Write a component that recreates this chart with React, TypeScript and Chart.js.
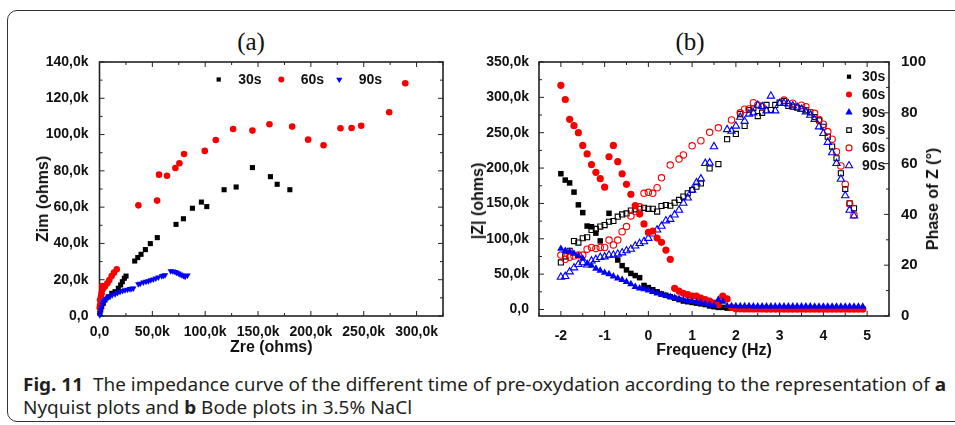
import React, { useEffect, useLayoutEffect, useRef } from 'react';
import { Chart, registerables } from 'chart.js';

Chart.register(...registerables);

// ---------------- (a) Nyquist data, kOhm ----------------
const NYQ_30_ZRE = [0.3, 1.1, 2.1, 3.6, 5.2, 8.3, 11.6, 14.7, 17.8, 20.0, 21.6, 23.5, 25.1, 33.3, 36.2, 39.3, 43.4, 48.1, 54.7, 72.4, 79.4, 87.9, 96.4, 101.5, 117.9, 129.3, 144.7, 161.7, 168.1, 180.1];
const NYQ_30_ZIM = [1.5, 3.3, 5.1, 7.0, 8.8, 10.6, 12.5, 13.4, 15.3, 17.1, 18.9, 20.8, 22.0, 30.3, 32.2, 34.0, 36.6, 39.9, 43.2, 50.5, 53.6, 59.4, 62.8, 60.3, 69.6, 71.1, 81.8, 76.8, 72.6, 69.6];

const NYQ_60_ZRE = [0.2, 0.5, 0.5, 1.4, 2.0, 3.0, 2.7, 5.2, 7.4, 9.3, 11.5, 13.7, 16.3, 36.8, 54.5, 56.3, 63.9, 71.8, 75.6, 80.0, 99.6, 110.0, 126.4, 144.7, 160.8, 182.3, 197.4, 212.0, 228.0, 238.5, 247.6, 274.1, 289.3];
const NYQ_60_ZIM = [4.5, 6.0, 8.8, 10.6, 12.5, 14.7, 16.5, 16.2, 18.0, 19.8, 22.0, 23.9, 25.7, 61.0, 63.6, 77.9, 77.3, 81.6, 84.2, 89.3, 91.0, 97.0, 103.1, 102.2, 105.7, 104.4, 97.2, 94.1, 103.5, 103.6, 104.9, 112.3, 128.3];

const NYQ_90_ZRE = [0.3, 0.8, 1.3, 2.0, 2.8, 3.8, 5.0, 6.5, 8.0, 9.9, 12.0, 14.7, 17.0, 19.4, 21.8, 24.1, 26.5, 28.9, 30.5, 32.0, 36.7, 38.5, 41.5, 44.0, 46.2, 48.5, 50.9, 53.3, 55.7, 58.9, 60.5, 62.0, 67.4, 69.5, 71.5, 73.0, 74.6, 76.2, 77.8, 79.4, 81.0, 83.2];
const NYQ_90_ZIM = [0.5, 2.0, 3.5, 5.0, 6.5, 7.8, 8.8, 9.6, 10.2, 10.8, 11.5, 12.1, 12.8, 13.4, 13.9, 14.3, 14.6, 14.9, 15.1, 15.3, 17.6, 17.9, 18.6, 19.0, 19.3, 19.8, 20.2, 20.8, 21.3, 22.0, 22.3, 22.6, 24.8, 24.6, 24.3, 23.9, 23.5, 23.0, 22.6, 22.1, 21.7, 22.4];

const NYQ_X_TICKS = [0, 50, 100, 150, 200, 250, 300];
const NYQ_X_LABELS = ['0,0', '50,0k', '100,0k', '150,0k', '200,0k', '250,0k', '300,0k'];
const NYQ_Y_TICKS = [0, 20, 40, 60, 80, 100, 120, 140];
const NYQ_Y_LABELS = ['0,0', '20,0k', '40,0k', '60,0k', '80,0k', '100,0k', '120,0k', '140,0k'];

// ---------------- (b) Bode data ----------------
const FREQ_MOD = [-2.0, -1.9, -1.8, -1.7, -1.6, -1.5, -1.4, -1.3, -1.2, -1.1, -1.0, -0.9, -0.8, -0.7, -0.6, -0.5, -0.4, -0.3, -0.2, -0.1, 0.0, 0.1, 0.2, 0.3, 0.4, 0.5, 0.6, 0.7, 0.8, 0.9, 1.0, 1.1, 1.2, 1.3, 1.4, 1.5, 1.6, 1.7, 1.8, 1.9, 2.0, 2.1, 2.2, 2.3, 2.4, 2.5, 2.6, 2.7, 2.8, 2.9, 3.0, 3.1, 3.2, 3.3, 3.4, 3.5, 3.6, 3.7, 3.8, 3.9, 4.0, 4.1, 4.2, 4.3, 4.4, 4.5, 4.6, 4.7, 4.8, 4.9];
// |Z| in kOhm
const MOD_30 = [192, 183, 179, 166, 148, 137, 118, 117, 108, 97, null, 136, null, 70, 62, 56, 51, 48, 45, 34, 31, 28, 25, 22, 20, 18, 16, 14, 12, 11, 10, 9, 8, 7, 5, 4, 3, 3, 2, 2, 1.8, 1.8, 1.6, 1.6, 1.5, 1.5, 1.5, 1.4, 1.4, 1.4, 1.3, 1.3, 1.3, 1.3, 1.2, 1.2, 1.2, 1.2, 1.2, 1.1, 1.1, 1.1, 1.1, 1.1, 1.0, 1.0, 1.0, 1.0, 1.0, 1.0];
const MOD_60 = [317, 297, 269, 260, 250, 232, 220, 205, 194, 185, 173, 216, 232, 209, 192, 177, 163, 147, 135, 121, 109, 111, 101, 95, 84, 71, 30, 26, 23, 21, 19, 19, 16, 14, 12, 9, 7, 19, 15, 3, 1.0, 0.9, 0.8, 0.8, 0.7, 0.7, 0.7, 0.6, 0.6, 0.6, 0.6, 0.5, 0.5, 0.5, 0.5, 0.5, 0.5, 0.5, 0.4, 0.4, 0.4, 0.4, 0.4, 0.4, 0.4, 0.4, 0.4, 0.4, 0.4, 0.4];
const MOD_90 = [86, 83, 82, 79, 76, 72, 65, 62, 58, 55, 52, 50, 47, 44, 42, 39, 36, 32, 30, 29, 27, 25, 23, 21, 19.5, 18, 16.5, 15, 13.5, 12, 11, 10.5, 9.5, 8, 7, 5.5, 14, 11, 5, 5, 4.8, 4.8, 4.7, 4.7, 4.6, 4.6, 4.6, 4.5, 4.5, 4.5, 4.5, 4.5, 4.4, 4.4, 4.4, 4.4, 4.4, 4.4, 4.3, 4.3, 4.3, 4.3, 4.3, 4.3, 4.3, 4.3, 4.3, 4.3, 4.3, 4.2];

const FREQ_PH = [-2.0, -1.9, -1.8, -1.7, -1.6, -1.5, -1.4, -1.3, -1.2, -1.1, -1.0, -0.9, -0.8, -0.7, -0.6, -0.5, -0.4, -0.3, -0.2, -0.1, 0.0, 0.1, 0.2, 0.3, 0.4, 0.5, 0.6, 0.7, 0.8, 0.9, 1.0, 1.1, 1.2, 1.3, 1.4, 1.5, 1.6, 1.7, 1.8, 1.9, 2.0, 2.1, 2.2, 2.3, 2.4, 2.5, 2.6, 2.7, 2.8, 2.9, 3.0, 3.1, 3.2, 3.3, 3.4, 3.5, 3.6, 3.7, 3.8, 3.9, 4.0, 4.1, 4.2, 4.3, 4.4, 4.5, 4.6, 4.7];
// phase in degrees
const PH_30 = [21.1, 23.5, 25.7, 29.5, 28.9, 30.6, 31.0, 33.9, 34.3, 35.2, 35.8, 37.1, 37.4, 39.1, 40.0, 40.4, 41.5, 42.0, 42.2, 42.6, 42.2, 42.2, 41.1, 43.3, 43.7, 43.4, 44.6, 45.7, 47.0, 48.3, 49.6, 50.9, 52.2, null, 58.1, null, 59.8, null, 69.6, null, 71.7, 79.5, 74.8, 81.1, 81.8, 78.7, 80.0, 83.1, 81.1, 83.1, 84.0, 84.6, 82.7, 82.4, 82.0, 81.6, 81.0, 80.2, 78.3, 77.0, 74.5, 70.6, 66.7, 62.1, 56.2, 50.0, 44.4, 42.4];
const PH_60 = [24.0, 22.3, 23.1, 23.6, 24.0, 24.0, 26.3, 27.0, 26.6, 27.0, 27.0, 29.9, 28.0, 29.9, 33.2, 35.2, 39.4, 41.1, 43.0, 48.3, 48.7, 48.3, 50.5, 54.4, null, 59.4, null, 61.8, 63.4, null, 67.0, null, 69.0, null, 72.3, null, 74.1, null, null, 77.2, null, 80.0, 81.4, 81.5, 84.0, 83.1, 82.4, null, null, null, null, 85.0, null, 83.8, null, 83.0, 82.4, null, 79.8, 77.4, 75.5, 72.6, 69.6, 64.7, 59.1, 51.9, 44.1, 39.8];
const PH_90 = [15.3, 15.6, 17.4, 19.0, 20.3, 21.0, 20.1, 21.7, 22.3, 23.1, 23.3, 24.0, 24.0, 24.4, 24.9, 25.7, 26.3, 27.6, 28.6, 29.3, 30.6, 32.3, 33.9, 35.4, 37.5, 38.1, 39.8, 41.7, 44.4, 46.5, 49.6, 52.5, 54.0, 60.1, 60.3, 66.7, null, null, 73.4, 72.8, 74.8, 78.3, 76.7, 79.5, 80.0, 83.0, 82.5, 80.8, 86.6, 80.8, 83.7, 83.7, 83.5, 82.8, 82.2, 81.4, 80.4, 79.1, 77.4, 74.5, 71.9, 68.4, 64.3, 60.1, 53.9, 47.4, 41.7, 39.4];

const BODE_X_TICKS = [-2, -1, 0, 1, 2, 3, 4, 5];
const BODE_X_LABELS = ['-2', '-1', '0', '1', '2', '3', '4', '5'];
const BODE_YL_TICKS = [0, 50, 100, 150, 200, 250, 300, 350];
const BODE_YL_LABELS = ['0,0', '50,0k', '100,0k', '150,0k', '200,0k', '250,0k', '300,0k', '350,0k'];
const BODE_YR_TICKS = [0, 20, 40, 60, 80, 100];
const BODE_YR_LABELS = ['0', '20', '40', '60', '80', '100'];

// ---------------- styling ----------------
const FONT = "'Liberation Sans', Arial, Helvetica, sans-serif";
const INK = '#111';
const FRAME = '#222';
const RED = '#f80000';
const BLUE = '#0000f8';
const BLACK = '#000';
const CLEAR = 'rgba(0,0,0,0)';

const pairs = (xs: number[], ys: (number | null)[]) =>
  xs.map((x, i) => ({ x, y: ys[i] })).filter((p) => p.y !== null && p.y !== undefined);

const labelFor = (ticks: number[], labels: string[]) => (v: number) => {
  const i = ticks.findIndex((t) => Math.abs(t - v) < 1e-9);
  return i >= 0 ? labels[i] : '';
};

function drawMarker(ctx: CanvasRenderingContext2D, style: string, x: number, y: number, r: number, rot: number, fill: string, stroke: string, lw: number) {
  ctx.beginPath();
  if (style === 'rect') {
    const s = r * Math.SQRT1_2;
    ctx.rect(x - s, y - s, 2 * s, 2 * s);
  } else if (style === 'triangle') {
    let rad = (rot * Math.PI) / 180;
    for (let k = 0; k < 3; k++) {
      const px = x + Math.sin(rad) * r;
      const py = y - Math.cos(rad) * r;
      if (k === 0) ctx.moveTo(px, py);
      else ctx.lineTo(px, py);
      rad += (2 * Math.PI) / 3;
    }
    ctx.closePath();
  } else {
    ctx.arc(x, y, r, 0, Math.PI * 2);
  }
  if (fill && fill !== CLEAR) {
    ctx.fillStyle = fill;
    ctx.fill();
  }
  if (lw > 0) {
    ctx.lineWidth = lw;
    ctx.strokeStyle = stroke;
    ctx.stroke();
  }
}

type TickSpec = { id: string; sides: string[]; div: number };
function makeFrame(id: string, specs: TickSpec[]) {
  return {
    id,
    beforeDatasetsDraw(chart: any) {
      const { ctx, chartArea: a } = chart;
      ctx.save();
      ctx.strokeStyle = FRAME;
      ctx.lineWidth = 1;
      for (const t of specs) {
        const s = chart.scales[t.id];
        const vals = s.ticks.map((k: any) => k.value);
        const major = vals[1] - vals[0];
        const step = major / t.div;
        let v = vals[0];
        while (v - step >= s.min - 1e-9) v -= step;
        for (; v <= s.max + 1e-9; v += step) {
          const q = (v - vals[0]) / major;
          const isMajor = Math.abs(q - Math.round(q)) < 1e-6;
          const len = isMajor ? 5 : 3;
          const p = s.getPixelForValue(v);
          ctx.beginPath();
          for (const side of t.sides) {
            if (side === 'bottom') { ctx.moveTo(p, a.bottom); ctx.lineTo(p, a.bottom - len); }
            if (side === 'top') { ctx.moveTo(p, a.top); ctx.lineTo(p, a.top + len); }
            if (side === 'left') { ctx.moveTo(a.left, p); ctx.lineTo(a.left + len, p); }
            if (side === 'right') { ctx.moveTo(a.right, p); ctx.lineTo(a.right - len, p); }
          }
          ctx.stroke();
        }
      }
      ctx.lineWidth = 1.6;
      ctx.strokeRect(a.left, a.top, a.right - a.left, a.bottom - a.top);
      ctx.restore();
    },
  };
}

type LegendItem = { index: number; r: number; dx: number; dy: number };
function makeLegend(id: string, anchor: 'left' | 'right', items: LegendItem[], textGap: number) {
  return {
    id,
    afterDatasetsDraw(chart: any) {
      const { ctx, chartArea: a } = chart;
      ctx.save();
      ctx.font = `bold 14px ${FONT}`;
      ctx.textBaseline = 'middle';
      ctx.textAlign = 'left';
      for (const it of items) {
        const ds = chart.data.datasets[it.index];
        const x = (anchor === 'left' ? a.left : a.right) + it.dx;
        const y = a.top + it.dy;
        drawMarker(ctx, ds.pointStyle, x, y, it.r, ds.pointRotation || 0, ds.pointBackgroundColor, ds.pointBorderColor, ds.pointBorderWidth);
        ctx.fillStyle = INK;
        ctx.fillText(ds.label, x + textGap, y + 0.5);
      }
      ctx.restore();
    },
  };
}

const tickFont = (size = 14) => ({ family: FONT, size, weight: 'bold' as const });

function configA(): any {
  return {
    type: 'scatter',
    data: {
      datasets: [
        { label: '30s', data: pairs(NYQ_30_ZRE, NYQ_30_ZIM), pointStyle: 'rect', pointRadius: 3.6, pointBackgroundColor: BLACK, pointBorderColor: BLACK, pointBorderWidth: 0, order: 3, clip: false },
        { label: '60s', data: pairs(NYQ_60_ZRE, NYQ_60_ZIM), pointStyle: 'circle', pointRadius: 3.3, pointBackgroundColor: RED, pointBorderColor: RED, pointBorderWidth: 0, order: 2, clip: false },
        { label: '90s', data: pairs(NYQ_90_ZRE, NYQ_90_ZIM), pointStyle: 'triangle', pointRotation: 180, pointRadius: 3.7, pointBackgroundColor: BLUE, pointBorderColor: BLUE, pointBorderWidth: 0, order: 1, clip: false },
      ],
    },
    options: {
      responsive: false,
      animation: false,
      events: [],
      layout: { padding: { left: 0, top: 62, right: 27, bottom: 0 } },
      plugins: { legend: { display: false }, tooltip: { enabled: false }, title: { display: false } },
      scales: {
        x: {
          type: 'linear', min: 0, max: 325,
          afterBuildTicks: (s: any) => { s.ticks = NYQ_X_TICKS.map((value) => ({ value })); },
          afterFit: (s: any) => { s.height = 49; },
          grid: { display: false }, border: { display: false },
          ticks: { font: tickFont(14), color: INK, padding: 0, maxRotation: 0, autoSkip: false, callback: labelFor(NYQ_X_TICKS, NYQ_X_LABELS) },
          title: { display: true, text: 'Zre (ohms)', color: INK, font: { family: FONT, size: 16, weight: 'bold' }, padding: { top: 0, bottom: 7.4 } },
        },
        y: {
          type: 'linear', min: 0, max: 140,
          afterBuildTicks: (s: any) => { s.ticks = NYQ_Y_TICKS.map((value) => ({ value })); },
          afterFit: (s: any) => { s.width = 99.5; },
          grid: { display: false }, border: { display: false },
          ticks: { font: tickFont(14), color: INK, padding: 3, autoSkip: false, callback: labelFor(NYQ_Y_TICKS, NYQ_Y_LABELS) },
        },
      },
    },
    plugins: [
      makeFrame('frameA', [
        { id: 'x', sides: ['bottom', 'top'], div: 2 },
        { id: 'y', sides: ['left', 'right'], div: 2 },
      ]),
      makeLegend('legendA', 'left', [
        { index: 0, r: 3.0, dx: 119.2, dy: 17.5 },
        { index: 1, r: 3.0, dx: 181.8, dy: 17.5 },
        { index: 2, r: 3.6, dx: 239.8, dy: 17.5 },
      ], 19.5),
    ],
  };
}

function configB(): any {
  return {
    type: 'scatter',
    data: {
      datasets: [
        { label: '30s', data: pairs(FREQ_MOD, MOD_30), yAxisID: 'y', pointStyle: 'rect', pointRadius: 3.9, pointBackgroundColor: BLACK, pointBorderColor: BLACK, pointBorderWidth: 0, order: 3, clip: false },
        { label: '60s', data: pairs(FREQ_MOD, MOD_60), yAxisID: 'y', pointStyle: 'circle', pointRadius: 3.6, pointBackgroundColor: RED, pointBorderColor: RED, pointBorderWidth: 0, order: 2, clip: false },
        { label: '90s', data: pairs(FREQ_MOD, MOD_90), yAxisID: 'y', pointStyle: 'triangle', pointRadius: 4.3, pointBackgroundColor: BLUE, pointBorderColor: BLUE, pointBorderWidth: 0, order: 1, clip: false },
        { label: '30s', data: pairs(FREQ_PH, PH_30), yAxisID: 'y1', pointStyle: 'rect', pointRadius: 3.6, pointBackgroundColor: CLEAR, pointBorderColor: BLACK, pointBorderWidth: 1.1, order: 6, clip: false },
        { label: '60s', data: pairs(FREQ_PH, PH_60), yAxisID: 'y1', pointStyle: 'circle', pointRadius: 3.2, pointBackgroundColor: CLEAR, pointBorderColor: RED, pointBorderWidth: 1.1, order: 5, clip: false },
        { label: '90s', data: pairs(FREQ_PH, PH_90), yAxisID: 'y1', pointStyle: 'triangle', pointRadius: 4.2, pointBackgroundColor: CLEAR, pointBorderColor: BLUE, pointBorderWidth: 1.1, order: 4, clip: false },
      ],
    },
    options: {
      responsive: false,
      animation: false,
      events: [],
      layout: { padding: { left: 0, top: 62, right: 0, bottom: 0 } },
      plugins: { legend: { display: false }, tooltip: { enabled: false }, title: { display: false } },
      scales: {
        x: {
          type: 'linear', min: -2.5, max: 5.5,
          afterBuildTicks: (s: any) => { s.ticks = BODE_X_TICKS.map((value) => ({ value })); },
          afterFit: (s: any) => { s.height = 49; },
          grid: { display: false }, border: { display: false },
          ticks: { font: tickFont(14), color: INK, padding: 4, maxRotation: 0, autoSkip: false, callback: labelFor(BODE_X_TICKS, BODE_X_LABELS) },
          title: { display: true, text: 'Frequency (Hz)', color: INK, font: { family: FONT, size: 16, weight: 'bold' }, padding: { top: 0, bottom: 4.4 } },
        },
        y: {
          type: 'linear', position: 'left', min: -9.2, max: 350,
          afterBuildTicks: (s: any) => { s.ticks = BODE_YL_TICKS.map((value) => ({ value })); },
          afterFit: (s: any) => { s.width = 84; },
          grid: { display: false }, border: { display: false },
          ticks: { font: tickFont(14), color: INK, padding: 2, autoSkip: false, callback: labelFor(BODE_YL_TICKS, BODE_YL_LABELS) },
        },
        y1: {
          type: 'linear', position: 'right', min: 0, max: 100,
          afterBuildTicks: (s: any) => { s.ticks = BODE_YR_TICKS.map((value) => ({ value })); },
          afterFit: (s: any) => { s.width = 66; },
          grid: { display: false }, border: { display: false },
          ticks: { font: tickFont(15), color: INK, padding: 4, autoSkip: false, callback: labelFor(BODE_YR_TICKS, BODE_YR_LABELS) },
        },
      },
    },
    plugins: [
      makeFrame('frameB', [
        { id: 'x', sides: ['bottom', 'top'], div: 2 },
        { id: 'y', sides: ['left'], div: 2 },
        { id: 'y1', sides: ['right'], div: 2 },
      ]),
      makeLegend('legendB', 'right', [
        { index: 0, r: 3.0, dx: -40, dy: 14.7 },
        { index: 1, r: 3.0, dx: -40, dy: 32.5 },
        { index: 2, r: 4.2, dx: -40, dy: 50.3 },
        { index: 3, r: 3.2, dx: -40, dy: 68.1 },
        { index: 4, r: 3.0, dx: -40, dy: 85.9 },
        { index: 5, r: 4.2, dx: -40, dy: 103.7 },
      ], 13),
    ],
  };
}

const vTitle = (cx: number, cy: number): React.CSSProperties => ({
  position: 'absolute', left: cx, top: cy, transform: 'translate(-50%, -50%) rotate(-90deg)',
  whiteSpace: 'nowrap', font: `bold 16px ${FONT}`, color: INK, lineHeight: '18px',
});

export default function App() {
  const refA = useRef<HTMLCanvasElement>(null);
  const refB = useRef<HTMLCanvasElement>(null);
  const cap1 = useRef<HTMLDivElement>(null);
  const cap2 = useRef<HTMLDivElement>(null);

  useEffect(() => {
    const a = new Chart(refA.current as HTMLCanvasElement, configA());
    const b = new Chart(refB.current as HTMLCanvasElement, configB());
    return () => { a.destroy(); b.destroy(); };
  }, []);

  useLayoutEffect(() => {
    const l1 = cap1.current, l2 = cap2.current;
    if (!l1 || !l2) return;
    const k = 923 / l1.scrollWidth;
    l1.style.transform = `scaleX(${k})`;
    l2.style.transform = `scaleX(${k})`;
  }, []);

  const capStyle: React.CSSProperties = {
    position: 'absolute', left: 23, whiteSpace: 'nowrap', display: 'inline-block',
    font: "18.5px 'Noto Sans', 'Open Sans', sans-serif", color: '#231f20', transformOrigin: 'left center', lineHeight: '22px',
  };

  return (
    <div style={{ position: 'fixed', left: 0, top: 0, width: 955, height: 425, background: '#fff', overflow: 'hidden' }}>
      <div style={{ position: 'absolute', left: 7, top: 10, width: 980, height: 412, border: '1.4px solid #333', borderRadius: 10, boxSizing: 'border-box' }} />
      <div style={{ position: 'absolute', left: 251, top: 42, transform: 'translate(-50%, -50%)', font: "25px 'Liberation Serif', 'DejaVu Serif', serif", color: INK, whiteSpace: 'nowrap' }}>(a)</div>
      <div style={{ position: 'absolute', left: 690, top: 42, transform: 'translate(-50%, -50%)', font: "25px 'Liberation Serif', 'DejaVu Serif', serif", color: INK, whiteSpace: 'nowrap' }}>(b)</div>
      <canvas ref={refA} width={470} height={365} style={{ position: 'absolute', left: 0, top: 0, width: 470, height: 365 }} />
      <canvas ref={refB} width={500} height={365} style={{ position: 'absolute', left: 455, top: 0, width: 500, height: 365 }} />
      <div style={vTitle(42.5, 199)}>Zim (ohms)</div>
      <div style={vTitle(478, 201)}>|Z| (ohms)</div>
      <div style={vTitle(933, 198.5)}>Phase of Z (°)</div>
      <div ref={cap1} style={{ ...capStyle, top: 373 }}>
        <b>Fig. 11</b>&nbsp;&nbsp;The impedance curve of the different time of pre-oxydation according to the representation of <b>a</b>
      </div>
      <div ref={cap2} style={{ ...capStyle, top: 396 }}>
        Nyquist plots and <b>b</b> Bode plots in 3.5% NaCl
      </div>
    </div>
  );
}
